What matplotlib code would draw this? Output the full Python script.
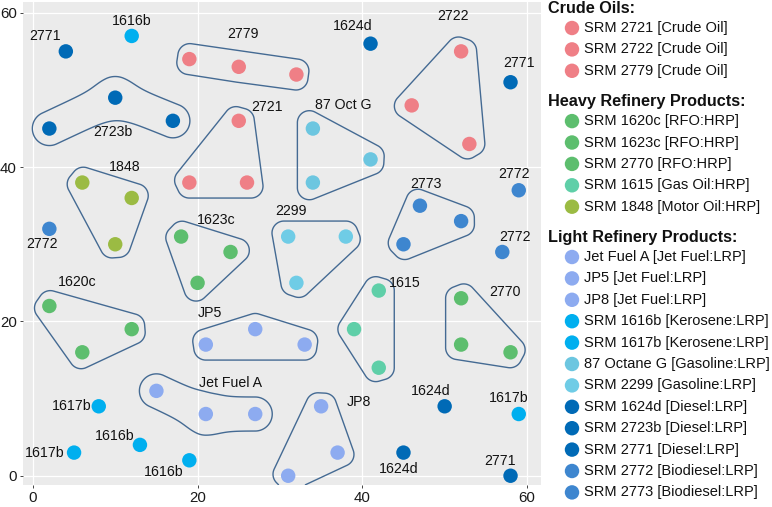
import matplotlib.pyplot as plt
import numpy as np
from matplotlib.path import Path

plt.rcParams['font.family'] = ['Liberation Sans', 'DejaVu Sans']

# Samples (legend order) and their replicate positions
samples = ['SRM 2721', 'SRM 2722', 'SRM 2779',
           'SRM 1620c', 'SRM 1623c', 'SRM 2770', 'SRM 1615', 'SRM 1848',
           'Jet Fuel A', 'JP5', 'JP8', 'SRM 1616b', 'SRM 1617b', '87 Octane G',
           'SRM 2299', 'SRM 1624d', 'SRM 2723b', 'SRM 2771', 'SRM 2772', 'SRM 2773']
sample_type = ['Crude Oil', 'Crude Oil', 'Crude Oil',
               'RFO:HRP', 'RFO:HRP', 'RFO:HRP', 'Gas Oil:HRP', 'Motor Oil:HRP',
               'Jet Fuel:LRP', 'Jet Fuel:LRP', 'Jet Fuel:LRP', 'Kerosene:LRP', 'Kerosene:LRP',
               'Gasoline:LRP', 'Gasoline:LRP', 'Diesel:LRP', 'Diesel:LRP', 'Diesel:LRP',
               'Biodiesel:LRP', 'Biodiesel:LRP']
short_names = ['2721', '2722', '2779', '1620c', '1623c', '2770', '1615', '1848',
               'Jet Fuel A', 'JP5', 'JP8', '1616b', '1617b', '87 Oct G', '2299',
               '1624d', '2723b', '2771', '2772', '2773']
x_vals = [[25, 19, 26], [52, 46, 53], [19, 25, 32],
          [2, 12, 6], [18, 24, 20], [52, 52, 58], [42, 39, 42], [6, 12, 10],
          [15, 21, 27], [21, 27, 33], [35, 37, 31], [12, 13, 19], [8, 5, 59],
          [34, 41, 34], [31, 38, 32], [41, 50, 45], [2, 10, 17], [4, 58, 58],
          [2, 59, 57], [47, 52, 45]]
y_vals = [[46, 38, 38], [55, 48, 43], [54, 53, 52],
          [22, 19, 16], [31, 29, 25], [23, 17, 16], [24, 19, 14], [38, 36, 30],
          [11, 8, 8], [17, 19, 17], [9, 3, 0], [57, 4, 2], [9, 3, 8],
          [45, 41, 38], [31, 31, 25], [56, 9, 3], [45, 49, 46], [55, 51, 0],
          [32, 37, 29], [35, 33, 30]]
clustered = [True, True, True, True, True, True, True, True,
             True, True, True, False, False, True, True, False, True, False,
             False, True]

sections = ['Crude Oils:', 'Heavy Refinery Products:', 'Light Refinery Products:']
section_of = [0]*3 + [1]*5 + [2]*12

colors = ['#EF7F86', '#EF7F86', '#EF7F86',
          '#5DBE6E', '#5DBE6E', '#5DBE6E', '#5FCFA8', '#9BBB43',
          '#8DABF0', '#8DABF0', '#8DABF0', '#00AFEF', '#00AFEF',
          '#6CC6E0', '#6FCCE6', '#006AB6', '#006AB6', '#006AB6', '#3E86CF', '#3E86CF']

# label offsets in pixels (dx, dy, screen y down): clusters from centroid, others per point
cluster_offset = {'2721': (42, -55), '2722': (6, -84), '2779': (1.5, -32.5),
                  '1620c': (-10.6, -46.7), '1623c': (13, -37), '2770': (27.5, -40),
                  '1615': (34.6, -45.7), '1848': (15, -41), 'Jet Fuel A': (25, -23),
                  'JP5': (-45, -26), 'JP8': (43.4, -43), '87 Oct G': (11, -52),
                  '2299': (-19.3, -41), '2723b': (0.5, 16.3), '2773': (-2.3, -40)}
point_offset = {'1616b': [(0, -15), (-25, -9), (-26, 11.5)],
                '1617b': [(-27, 0), (-29, 0), (-10, -15.6)],
                '1624d': [(-17.7, -18), (-14, -15.5), (-5, 16)],
                '2771': [(-21, -15), (9, -19.5), (-10, -15)],
                '2772': [(-7, 15.5), (-4.6, -16.7), (13, -15)]}
bent_hulls = ['Jet Fuel A', '2723b']

W, H = 772, 507
fig = plt.figure(figsize=(W/100, H/100), dpi=100)
ax = fig.add_axes([23/W, 22/H, 518/W, 483/H])
ax.set_facecolor('#EBEBEB')
xlim = (-1.2, 61.7)
ylim = (-1.2, 61.4)
ax.set_xlim(xlim)
ax.set_ylim(ylim)
ax.set_xticks([0, 20, 40, 60])
ax.set_yticks([0, 20, 40, 60])
ax.grid(color='white', linewidth=0.9)
ax.set_axisbelow(True)
for s in ax.spines.values():
    s.set_visible(False)
ax.tick_params(length=2.5, width=0.7, color='#444444', labelsize=10.8,
               labelcolor='#1A1A1A', pad=2)

# pixel grid for hull outlines
pw, ph = 518, 483
gx = np.linspace(xlim[0], xlim[1], 900)
gy = np.linspace(ylim[0], ylim[1], 900)
GX, GY = np.meshgrid(gx, gy)
PX = (GX - xlim[0]) / (xlim[1] - xlim[0]) * pw
PY = (GY - ylim[0]) / (ylim[1] - ylim[0]) * ph
grid_pts = np.column_stack([PX.ravel(), PY.ravel()])


def to_px(x, y):
    x = np.asarray(x, float)
    y = np.asarray(y, float)
    return ((x - xlim[0]) / (xlim[1] - xlim[0]) * pw,
            (y - ylim[0]) / (ylim[1] - ylim[0]) * ph)


def seg_dist(ax_, ay_, bx_, by_):
    dx, dy = bx_ - ax_, by_ - ay_
    t = ((PX - ax_) * dx + (PY - ay_) * dy) / (dx * dx + dy * dy)
    t = np.clip(t, 0, 1)
    return np.hypot(PX - (ax_ + t * dx), PY - (ay_ + t * dy))


def poly_field(vx, vy):
    n = len(vx)
    d = np.min([seg_dist(vx[j], vy[j], vx[(j + 1) % n], vy[(j + 1) % n]) for j in range(n)], axis=0)
    inside = Path(np.column_stack([vx, vy])).contains_points(grid_pts).reshape(PX.shape)
    d[inside] = 0
    return d


def miter_offset(px, py, d, mitlim=2.0):
    # make counter-clockwise
    area = np.sum(px * np.roll(py, -1) - np.roll(px, -1) * py)
    if area < 0:
        px, py = px[::-1], py[::-1]
    n = len(px)
    ox, oy = [], []
    for j in range(n):
        p0 = np.array([px[j - 1], py[j - 1]])
        p1 = np.array([px[j], py[j]])
        p2 = np.array([px[(j + 1) % n], py[(j + 1) % n]])
        e1 = (p1 - p0) / np.linalg.norm(p1 - p0)
        e2 = (p2 - p1) / np.linalg.norm(p2 - p1)
        n1 = np.array([e1[1], -e1[0]])
        n2 = np.array([e2[1], -e2[0]])
        b = n1 + n2
        cos_half = np.linalg.norm(b) / 2
        if cos_half > 1 / mitlim:
            m = p1 + b / np.linalg.norm(b) * d / cos_half
            ox.append(m[0]); oy.append(m[1])
        else:
            for nn in (n1, n2):
                ox.append(p1[0] + nn[0] * d); oy.append(p1[1] + nn[1] * d)
    return np.array(ox), np.array(oy)


for i, name in enumerate(short_names):
    if not clustered[i]:
        continue
    px, py = to_px(x_vals[i], y_vals[i])
    if name in bent_hulls:
        order = np.argsort(px)
        px, py = px[order], py[order]
        d1 = seg_dist(px[0], py[0], px[1], py[1])
        d2 = seg_dist(px[1], py[1], px[2], py[2])
        k = 6.0
        field = -k * np.log(np.exp(-d1 / k) + np.exp(-d2 / k))
        r = 17
    else:
        # expand with mitred corners, then round them off
        qx, qy = miter_offset(px, py, 3.5)
        field = poly_field(qx, qy)
        r = 12.0
    ax.contour(GX, GY, field, levels=[r], colors='#446A93', linewidths=1.0)

for i, name in enumerate(short_names):
    ax.scatter(x_vals[i], y_vals[i], s=108, color=colors[i], edgecolors='none', zorder=3)
    if clustered[i]:
        cx, cy = np.mean(x_vals[i]), np.mean(y_vals[i])
        dx, dy = cluster_offset[name]
        ax.annotate(name, (cx, cy), xytext=(dx, -dy), textcoords='offset pixels',
                    ha='center', va='center', fontsize=10.2, color='#111111')
    else:
        for j in range(3):
            dx, dy = point_offset[name][j]
            ax.annotate(name, (x_vals[i][j], y_vals[i][j]), xytext=(dx, -dy),
                        textcoords='offset pixels', ha='center', va='center',
                        fontsize=10.2, color='#111111')

# legend drawn in pixel coordinates
lg = fig.add_axes([0, 0, 1, 1], facecolor='none')
lg.set_xlim(0, W)
lg.set_ylim(H, 0)
lg.axis('off')
y = 8.5
for s_idx, title in enumerate(sections):
    if s_idx > 0:
        y += 30.8
    lg.text(548, y, title, fontsize=11.7, fontweight='bold', va='center', ha='left',
            color='#111111')
    y += 19.5
    first = True
    for i in range(len(samples)):
        if section_of[i] != s_idx:
            continue
        if not first:
            y += 21.4
        first = False
        lg.scatter([572], [y], s=108, color=colors[i], edgecolors='none')
        lg.text(584, y, f'{samples[i]} [{sample_type[i]}]', fontsize=10.5,
                va='center', ha='left', color='#111111')

fig.savefig('out.png', dpi=100)
